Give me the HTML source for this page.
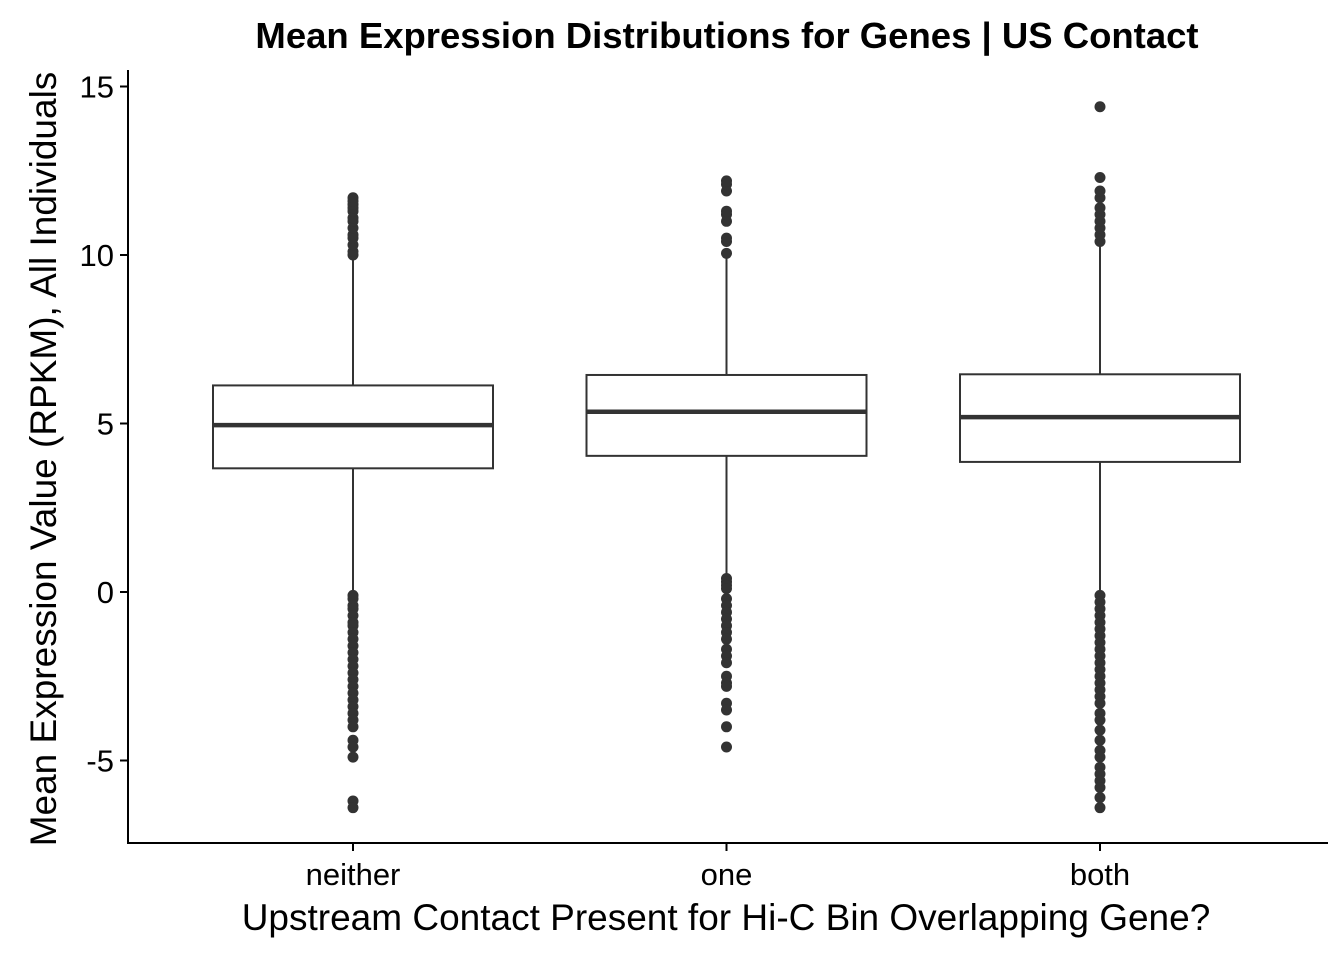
<!DOCTYPE html>
<html><head><meta charset="utf-8"><style>
body{margin:0;background:#fff;font-family:"Liberation Sans",sans-serif}
</style></head><body>
<svg id="chart" width="1344" height="960" xmlns="http://www.w3.org/2000/svg">
<text x="727" y="48" text-anchor="middle" font-size="36.5" font-weight="bold">Mean Expression Distributions for Genes | US Contact</text>
<text x="726" y="930" text-anchor="middle" font-size="37">Upstream Contact Present for Hi-C Bin Overlapping Gene?</text>
<text transform="translate(56,459) rotate(-90)" text-anchor="middle" font-size="37">Mean Expression Value (RPKM), All Individuals</text>
<line x1="128" y1="70" x2="128" y2="843" stroke="#000" stroke-width="2"/>
<line x1="127" y1="843" x2="1328" y2="843" stroke="#000" stroke-width="2"/>
<g id="marks"></g>
</svg>
<script>
const categories=["neither","one","both"];
const q1=[3.67,4.04,3.86];
const medians=[4.95,5.35,5.19];
const q3=[6.13,6.44,6.46];
const whiskerLow=[-0.05,0.45,-0.1];
const whiskerHigh=[9.95,9.9,10.3];
const outliersNeither=[10.0,10.1,10.3,10.5,10.6,10.8,11.0,11.1,11.3,11.4,11.5,11.6,11.7,-0.1,-0.2,-0.4,-0.5,-0.7,-0.9,-1.0,-1.2,-1.4,-1.6,-1.8,-2.0,-2.2,-2.4,-2.6,-2.8,-3.0,-3.2,-3.4,-3.6,-3.8,-4.0,-4.4,-4.6,-4.9,-6.2,-6.4];
const outliersOne=[10.05,10.4,10.5,11.0,11.2,11.3,11.9,12.1,12.2,0.4,0.3,0.2,0.1,-0.2,-0.4,-0.6,-0.8,-1.0,-1.2,-1.4,-1.7,-1.9,-2.1,-2.5,-2.7,-2.8,-3.3,-3.5,-4.0,-4.6];
const outliersBoth=[10.4,10.6,10.8,11.0,11.2,11.4,11.7,11.9,12.3,14.4,-0.1,-0.3,-0.5,-0.7,-0.9,-1.1,-1.3,-1.5,-1.7,-1.9,-2.1,-2.3,-2.5,-2.7,-2.9,-3.1,-3.3,-3.6,-3.8,-4.1,-4.4,-4.7,-4.9,-5.2,-5.4,-5.6,-5.8,-6.1,-6.4];
const outliers=[outliersNeither,outliersOne,outliersBoth];
const yTicks=[-5,0,5,10,15];
const NS="http://www.w3.org/2000/svg";
const y=v=>592-v*33.7;
const x=i=>353+i*373.5;
const half=140;
const g=document.getElementById('marks');
function mk(t,a){const e=document.createElementNS(NS,t);for(const k in a)e.setAttribute(k,a[k]);g.appendChild(e);return e;}
yTicks.forEach(t=>{
 const l=mk('line',{x1:120,x2:128,y1:y(t),y2:y(t),stroke:'#000','stroke-width':2});
 
 
 const tx=mk('text',{x:114,y:y(t)+11,'text-anchor':'end','font-size':31});
 tx.textContent=t;
 
 
});
categories.forEach((c,i)=>{
 const cx=x(i);
 const l=mk('line',{x1:cx,x2:cx,y1:843,y2:851,stroke:'#000','stroke-width':2});
 
 
 const tx=mk('text',{x:cx,y:885,'text-anchor':'middle','font-size':31});
 tx.textContent=c;
 
 
 const w1=mk('line',{x1:cx,x2:cx,y1:y(q3[i]),y2:y(whiskerHigh[i]),stroke:'#333','stroke-width':2});
 
 
 const w2=mk('line',{x1:cx,x2:cx,y1:y(q1[i]),y2:y(whiskerLow[i]),stroke:'#333','stroke-width':2});
 
 
 const b=mk('rect',{x:cx-half,y:y(q3[i]),width:2*half,height:y(q1[i])-y(q3[i]),fill:'#fff',stroke:'#333','stroke-width':2});
 
 
 const m=mk('line',{x1:cx-half,x2:cx+half,y1:y(medians[i]),y2:y(medians[i]),stroke:'#333','stroke-width':4.5});
 
 
 outliers[i].forEach(v=>{
  const p=mk('circle',{cx:cx,cy:y(v),r:5.5,fill:'#333'});
  
  
 });
});
</script>
</body></html>
